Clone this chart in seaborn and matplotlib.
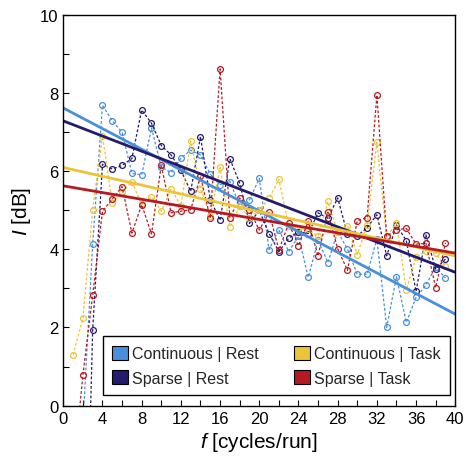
import numpy as np
import pandas as pd
import matplotlib
matplotlib.use("Agg")
import matplotlib.pyplot as plt
import seaborn as sns
from matplotlib.patches import Patch
from matplotlib.ticker import MultipleLocator

# ---------------- data ----------------
freq = list(range(1, 40))

cont_rest = [-2.0, -0.5, 4.14, 7.68, 7.28, 6.99, 5.94, 5.90, 7.10, 6.10,
             5.96, 6.33, 6.53, 6.41, 5.92, 5.65, 5.73, 5.11, 5.26, 5.81,
             3.99, 4.50, 3.94, 4.33, 3.28, 4.23, 3.66, 4.45, 4.00, 3.36,
             3.36, 4.26, 2.00, 3.30, 2.13, 2.77, 3.08, 3.55, 3.26]

sparse_rest = [-8.0, -7.5, 1.94, 6.17, 6.05, 6.14, 6.32, 7.56, 7.22, 6.65,
               6.41, 6.02, 5.48, 6.88, 5.27, 4.74, 6.31, 5.69, 4.66, 4.99,
               4.40, 3.94, 4.28, 4.45, 4.40, 4.93, 4.79, 5.31, 4.38, 4.34,
               4.55, 4.88, 3.83, 4.62, 4.22, 2.92, 4.37, 3.49, 3.75]

cont_task = [1.30, 2.23, 5.01, 6.90, 5.18, 5.45, 5.72, 5.15, 5.34, 4.97,
             5.54, 5.11, 6.77, 5.55, 4.85, 6.09, 4.58, 5.10, 4.80, 5.00,
             5.30, 5.79, 4.60, 4.54, 4.51, 4.33, 5.22, 4.43, 4.60, 3.86,
             4.62, 6.73, 4.30, 4.68, 2.96, 3.79, 3.96, 3.90, 3.56]

sparse_task = [-1.8, 0.78, 2.83, 4.97, 5.28, 5.60, 4.41, 5.14, 4.39, 6.15,
               4.93, 4.97, 5.01, 5.86, 4.79, 8.61, 4.80, 5.31, 5.00, 4.49,
               4.94, 3.98, 4.66, 4.09, 4.71, 3.83, 4.94, 4.01, 3.46, 4.73,
               4.81, 7.94, 4.33, 4.50, 4.53, 4.13, 4.15, 3.02, 4.16]

labels = ["Continuous | Rest", "Sparse | Rest", "Continuous | Task", "Sparse | Task"]
series = [cont_rest, sparse_rest, cont_task, sparse_task]
colors = ["#4a8fdb", "#241a6e", "#ebc43a", "#b51a22"]

# linear fits (value at f = 0 and at f = 40)
fit_f = [0, 40]
fit_at_start = [7.61, 7.28, 6.09, 5.62]
fit_at_end = [2.34, 3.41, 3.83, 3.90]

# ---------------- style ----------------
sns.set_theme(style="white")
plt.rcParams['font.family'] = ['Liberation Sans', 'DejaVu Sans']
plt.rcParams['mathtext.fontset'] = 'custom'
plt.rcParams['mathtext.it'] = 'Liberation Sans:italic'
plt.rcParams['mathtext.rm'] = 'Liberation Sans'

fig = plt.figure(figsize=(4.66, 4.60), dpi=100)
ax = fig.add_axes([0.1358, 0.1159, 0.8412, 0.8504])

df = pd.concat([pd.DataFrame({"f": freq, "I": vals, "condition": lab})
                for lab, vals in zip(labels, series)], ignore_index=True)

for lab, col in zip(labels, colors):
    sub = df[df["condition"] == lab]
    sns.lineplot(data=sub, x="f", y="I", ax=ax, color=col, marker="o",
                 markersize=4.2, markerfacecolor="none", markeredgecolor=col,
                 markeredgewidth=0.9, linewidth=0.9, linestyle=(0, (2.2, 1.6)),
                 errorbar=None, legend=False)

for col, a, b in zip(colors, fit_at_start, fit_at_end):
    sns.lineplot(x=fit_f, y=[a, b], ax=ax, color=col, linewidth=2.0,
                 errorbar=None, legend=False)

ax.set_xlim(0, 40)
ax.set_ylim(0, 10)
ax.xaxis.set_major_locator(MultipleLocator(4))
ax.xaxis.set_minor_locator(MultipleLocator(2))
ax.yaxis.set_major_locator(MultipleLocator(2))
ax.yaxis.set_minor_locator(MultipleLocator(1))
ax.tick_params(which="both", direction="in", length=4, width=0.8,
               color="black", labelsize=12, labelcolor="black",
               bottom=True, left=True, top=False, right=False)
for s in ax.spines.values():
    s.set_color("black")
    s.set_linewidth(1.0)

ax.set_xlabel(r"$f$ [cycles/run]", fontsize=15, color="black", labelpad=3)
ax.set_ylabel(r"$I$ [dB]", fontsize=15, color="black", labelpad=5)

handles = [Patch(facecolor=c, edgecolor="black", linewidth=0.8) for c in colors]
leg = ax.legend(handles, labels, ncol=2, loc="lower left",
                bbox_to_anchor=(0.101, 0.027, 0.885, 0.16), mode="expand",
                frameon=True, fancybox=False, edgecolor="black", framealpha=1,
                fontsize=11.5, handlelength=1.0, handleheight=1.0,
                handletextpad=0.2, borderaxespad=0, columnspacing=1.0,
                labelspacing=0.55, borderpad=0.6)
leg.get_frame().set_linewidth(1.0)

fig.savefig("out.png", dpi=100)
